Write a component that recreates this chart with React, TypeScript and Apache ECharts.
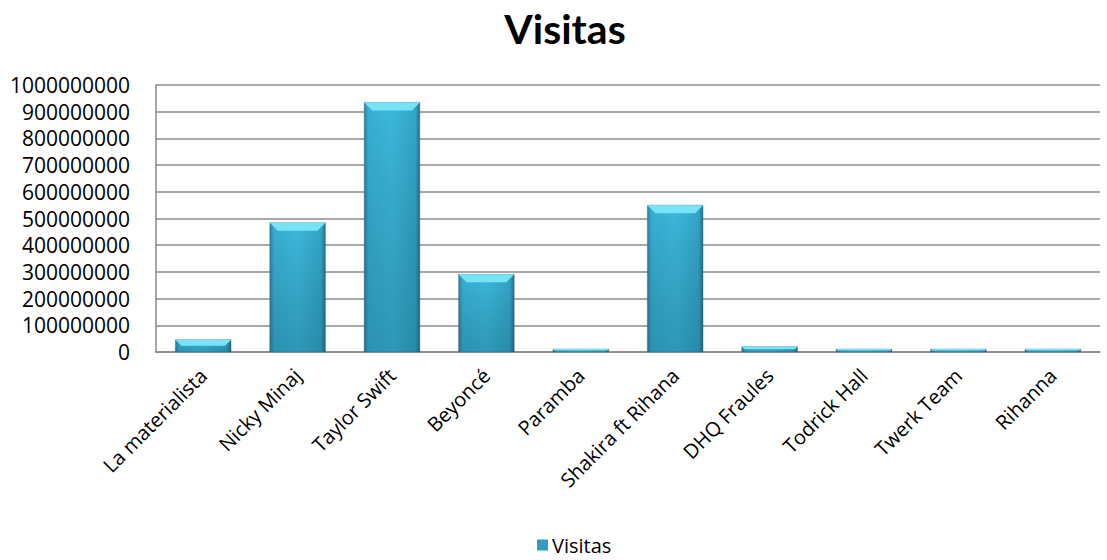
import React, { useEffect, useRef } from "react";
import * as echarts from "echarts";

const categories = [
  "La materialista",
  "Nicky Minaj",
  "Taylor Swift",
  "Beyoncé",
  "Paramba",
  "Shakira ft Rihana",
  "DHQ Fraules",
  "Todrick Hall",
  "Twerk Team",
  "Rihanna",
];
const visitas = [46000000, 484000000, 934000000, 291000000, 1500000, 550000000, 20000000, 1500000, 1500000, 1500000];
const yTicks = { min: 0, max: 1000000000, interval: 100000000 };
const seriesName = "Visitas";

export default function App() {
  const ref = useRef<HTMLDivElement>(null);
  useEffect(() => {
    document.body.style.margin = "0";
    const chart = echarts.init(ref.current!, null, { renderer: "svg" });
    const font = "'Open Sans', sans-serif";
    chart.setOption({
      animation: false,
      backgroundColor: "#ffffff",
      title: {
        text: "Visitas",
        left: 565,
        textAlign: "center",
        top: 8,
        padding: 0,
        textStyle: { fontFamily: "Lato, sans-serif", fontWeight: "bold", fontSize: 41, color: "#000" },
      },
      legend: {
        bottom: 0,
        left: 532,
        itemWidth: 11,
        itemHeight: 11,
        itemGap: 4,
        icon: "rect",
        textStyle: { fontFamily: font, fontSize: 20, color: "#000", padding: [0, 0, 0, -1] },
        data: [{ name: seriesName, itemStyle: { color: "#2f9cc0" } }],
      },
      grid: { left: 156, right: 7, top: 85, bottom: 208, containLabel: false },
      xAxis: {
        type: "category",
        data: categories,
        axisLine: { lineStyle: { color: "#888", width: 1.5 } },
        axisTick: { show: false },
        axisLabel: {
          rotate: 45,
          interval: 0,
          fontFamily: font,
          fontSize: 20,
          color: "#000",
          margin: 20,
        },
      },
      yAxis: {
        type: "value",
        min: yTicks.min,
        max: yTicks.max,
        interval: yTicks.interval,
        axisLine: { show: true, lineStyle: { color: "#888", width: 1.5 } },
        axisTick: { show: false },
        splitLine: { lineStyle: { color: "#8c8c8c", width: 1.5 } },
        axisLabel: {
          fontFamily: font,
          fontSize: 21,
          color: "#000",
          margin: 26,
          formatter: (v: number) => String(v),
        },
      },
      series: [
        {
          name: seriesName,
          type: "custom",
          data: visitas.map((v, i) => [i, v]),
          encode: { x: 0, y: 1 },
          renderItem: (params: any, api: any) => {
            const idx = api.value(0);
            const val = api.value(1);
            const top = api.coord([idx, val]);
            const base = api.coord([idx, 0]);
            const bw = api.size([1, 0])[0] * 0.59;
            const x0 = top[0] - bw / 2;
            const y0 = top[1];
            const h = Math.max(base[1] - y0, 3);
            const yt = base[1] - h;
            const bev = Math.min(8, h * 0.5);
            const bodyGrad = new echarts.graphic.LinearGradient(0, 0, 1, 0, [
              { offset: 0, color: "#2a86a3" },
              { offset: 0.08, color: "#37b0d4" },
              { offset: 0.5, color: "#3cb8dc" },
              { offset: 0.92, color: "#33a6c8" },
              { offset: 1, color: "#23758f" },
            ]);
            const shade = new echarts.graphic.LinearGradient(0, 0, 0, 1, [
              { offset: 0, color: "rgba(0,0,0,0)" },
              { offset: 1, color: "rgba(0,40,60,0.22)" },
            ]);
            return {
              type: "group",
              children: [
                {
                  type: "rect",
                  shape: { x: x0, y: yt, width: bw, height: h },
                  style: { fill: bodyGrad, stroke: "rgba(90,90,90,0.35)", lineWidth: 1 },
                },
                {
                  type: "rect",
                  shape: { x: x0, y: yt, width: bw, height: h },
                  style: { fill: shade },
                },
                {
                  type: "polygon",
                  shape: {
                    points: [
                      [x0, yt],
                      [x0 + bw, yt],
                      [x0 + bw - bev, yt + bev],
                      [x0 + bev, yt + bev],
                    ],
                  },
                  style: { fill: "#76e4f6" },
                },
              ],
            };
          },
        },
      ],
    });
    return () => chart.dispose();
  }, []);
  return <div ref={ref} style={{ width: 1107, height: 560 }} />;
}
